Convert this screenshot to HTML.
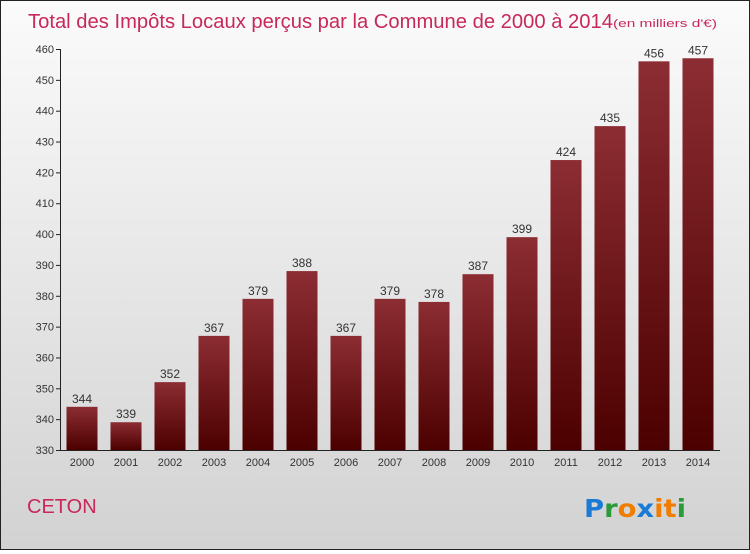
<!DOCTYPE html>
<html><head><meta charset="utf-8"><style>
html,body{margin:0;padding:0}
body{width:750px;height:550px;overflow:hidden;font-family:"Liberation Sans","DejaVu Sans",sans-serif}
#wrap{position:absolute;left:0;top:0;width:748px;height:548px;border:1px solid #222;background:linear-gradient(#fbfbfb,#d2d2d2)}
</style></head><body>
<div id="wrap">
<svg width="748" height="548">
<defs><linearGradient id="bg" x1="0" y1="0" x2="0" y2="1"><stop offset="0" stop-color="#8c2d33"/><stop offset="1" stop-color="#4c0000"/></linearGradient></defs>
<text x="27" y="27" font-size="20" fill="#c8285a" textLength="585" lengthAdjust="spacingAndGlyphs">Total des Impôts Locaux perçus par la Commune de 2000 à 2014</text>
<text x="612" y="26" font-size="11" fill="#c8285a" textLength="104" lengthAdjust="spacingAndGlyphs">(en milliers d'€)</text>
<g id="axes"></g><g id="bars"></g>
<text x="26" y="512" font-size="20" fill="#c8285a">CETON</text>
<g font-size="25" font-weight="bold" font-family="'DejaVu Sans',sans-serif">
<text x="583" y="516" fill="#1b7ad6" textLength="102" lengthAdjust="spacingAndGlyphs">P<tspan fill="#2a9a3a">r</tspan><tspan fill="#f07c00">o</tspan><tspan fill="#1b7ad6">x</tspan><tspan fill="#f07c00">i</tspan><tspan fill="#f07c00">t</tspan><tspan fill="#2a9a3a">i</tspan></text>
</g>
</svg></div>
<script>
const years=["2000","2001","2002","2003","2004","2005","2006","2007","2008","2009","2010","2011","2012","2013","2014"];
const values=[344,339,352,367,379,388,367,379,378,387,399,424,435,456,457];
const ticks=[330,340,350,360,370,380,390,400,410,420,430,440,450,460];
const NS="http://www.w3.org/2000/svg";
const y0=330,y1=460,pyBot=449,pyTop=48;
function yS(v){return pyBot-(v-y0)/(y1-y0)*(pyBot-pyTop);}
function xS(i){return 81+i*44;}
function mk(t,a,p){const e=document.createElementNS(NS,t);for(const k in a)e.setAttribute(k,a[k]);p.appendChild(e);return e;}
const ax=document.getElementById('axes'),bg=document.getElementById('bars');
const yl=mk('line',{x1:59.5,x2:59.5,y1:pyTop,y2:pyBot,stroke:'#222'},ax);


const xl=mk('line',{x1:59,x2:719,y1:pyBot+0.5,y2:pyBot+0.5,stroke:'#222'},ax);


ticks.forEach(v=>{const y=yS(v);
mk('line',{x1:55,x2:60,y1:y+0.5,y2:y+0.5,stroke:'#222'},ax);
const t=mk('text',{x:53,y:y+4,'font-size':11,fill:'#333','text-anchor':'end'},ax);t.textContent=v;

});
years.forEach((yr,i)=>{const x=xS(i),v=values[i],y=yS(v);
const r=mk('rect',{x:x-15.5,y:y,width:31,height:pyBot-y,fill:'url(#bg)'},bg);


const l=mk('text',{x:x,y:y-4,'font-size':12,fill:'#333','text-anchor':'middle'},bg);l.textContent=v;


const t=mk('text',{x:x,y:pyBot+16,'font-size':11,fill:'#333','text-anchor':'middle'},ax);t.textContent=yr;

});
</script>
</body></html>
